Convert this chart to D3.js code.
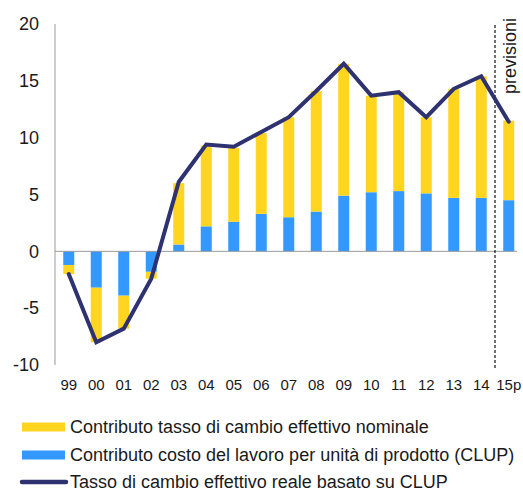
<!DOCTYPE html>
<html>
<head>
<meta charset="utf-8">
<script src="https://cdn.jsdelivr.net/npm/d3@7"></script>
<style>
  body { margin: 0; background: #fff; }
  text { font-family: Arial, "Liberation Sans", sans-serif; fill: #1a1a1a; }
</style>
</head>
<body>
<svg id="chart" width="523" height="492"></svg>
<script>
const categories = ["99", "00", "01", "02", "03", "04", "05", "06", "07", "08", "09", "10", "11", "12", "13", "14", "15p"];
const clup = [-1.2, -3.2, -3.9, -1.8, 0.6, 2.2, 2.6, 3.3, 3.0, 3.5, 4.9, 5.2, 5.3, 5.1, 4.7, 4.7, 4.5];
const nominal = [-0.8, -4.8, -2.9, -0.6, 5.4, 7.1, 6.5, 7.1, 8.8, 10.6, 11.6, 8.5, 8.7, 6.7, 9.6, 10.7, 7.0];
const real = [-2.0, -8.0, -6.8, -2.4, 6.1, 9.4, 9.2, 10.5, 11.8, 14.1, 16.5, 13.7, 14.0, 11.8, 14.3, 15.4, 11.4];
const yTicks = [-10, -5, 0, 5, 10, 15, 20];
const forecastFrom = "15p";

const legendLabels = [
    "Contributo tasso di cambio effettivo nominale",
    "Contributo costo del lavoro per unità di prodotto (CLUP)",
    "Tasso di cambio effettivo reale basato su CLUP"
];

const colors = { nominal: "#ffd520", clup: "#3399ff", real: "#2e3270" };

const svg = d3.select("#chart");
const plot = { left: 55, right: 522.5, top: 24, bottom: 365 };

const x = d3.scaleBand().domain(categories).range([plot.left, plot.right]).paddingInner(0.6).paddingOuter(0.3);
const y = d3.scaleLinear().domain([-10, 20]).range([plot.bottom, plot.top]);

const rows = categories.map((c, i) => ({ cat: c, clup: clup[i], nominal: nominal[i], real: real[i] }));

// bars: CLUP next to zero, nominal stacked on top of it
svg.append("g").selectAll("rect.clup")
    .data(rows).enter().append("rect")
    .attr("x", d => x(d.cat))
    .attr("width", x.bandwidth())
    .attr("y", d => y(Math.max(0, d.clup)))
    .attr("height", d => Math.abs(y(d.clup) - y(0)))
    .attr("fill", colors.clup);

svg.append("g").selectAll("rect.nom")
    .data(rows).enter().append("rect")
    .attr("x", d => x(d.cat))
    .attr("width", x.bandwidth())
    .attr("y", d => y(Math.max(d.clup, d.clup + d.nominal)))
    .attr("height", d => Math.abs(y(d.clup + d.nominal) - y(d.clup)))
    .attr("fill", colors.nominal);

// axes
svg.append("line")
    .attr("x1", plot.left).attr("x2", plot.left)
    .attr("y1", plot.top).attr("y2", plot.bottom)
    .attr("stroke", "#999").attr("stroke-width", 1);
svg.append("line")
    .attr("x1", plot.left).attr("x2", 517)
    .attr("y1", y(0)).attr("y2", y(0))
    .attr("stroke", "#999").attr("stroke-width", 1);

svg.append("g").selectAll("text")
    .data(yTicks).enter().append("text")
    .attr("x", 39)
    .attr("y", d => y(d))
    .attr("dy", "0.35em")
    .attr("text-anchor", "end")
    .style("font-size", "18px")
    .text(d => d);

svg.append("g").selectAll("text")
    .data(categories).enter().append("text")
    .attr("x", d => x(d) + x.bandwidth() / 2)
    .attr("y", 385)
    .attr("dy", "0.35em")
    .attr("text-anchor", "middle")
    .style("font-size", "15px")
    .text(d => d);

// forecast divider
const divX = x(forecastFrom) - x.step() * x.paddingInner() / 2;
svg.append("line")
    .attr("x1", divX).attr("x2", divX)
    .attr("y1", 25).attr("y2", 368)
    .attr("stroke", "#111").attr("stroke-width", 1.2)
    .attr("stroke-dasharray", "3,2");
svg.append("text")
    .attr("transform", `translate(${divX + 21}, 18) rotate(-90)`)
    .attr("text-anchor", "end")
    .style("font-size", "18px")
    .text("previsioni");

// real exchange rate line
const line = d3.line()
    .x(d => x(d.cat) + x.bandwidth() / 2)
    .y(d => y(d.real));
svg.append("path")
    .datum(rows)
    .attr("d", line)
    .attr("fill", "none")
    .attr("stroke", colors.real)
    .attr("stroke-width", 4)
    .attr("stroke-linejoin", "miter")
    .attr("stroke-linecap", "round");

// legend
const legend = svg.append("g");
const legendY = [427, 455, 482];
const swatchColors = [colors.nominal, colors.clup];
legend.selectAll("rect")
    .data(swatchColors).enter().append("rect")
    .attr("x", 22).attr("width", 43)
    .attr("y", (d, i) => legendY[i] - 4.5).attr("height", 9)
    .attr("fill", d => d);
legend.append("line")
    .attr("x1", 22).attr("x2", 66)
    .attr("y1", legendY[2]).attr("y2", legendY[2])
    .attr("stroke", colors.real).attr("stroke-width", 4.5)
    .attr("stroke-linecap", "round");
legend.selectAll("text")
    .data(legendLabels).enter().append("text")
    .attr("x", 70)
    .attr("y", (d, i) => legendY[i])
    .attr("dy", "0.35em")
    .style("font-size", "18px")
    .text(d => d);
</script>
</body>
</html>
